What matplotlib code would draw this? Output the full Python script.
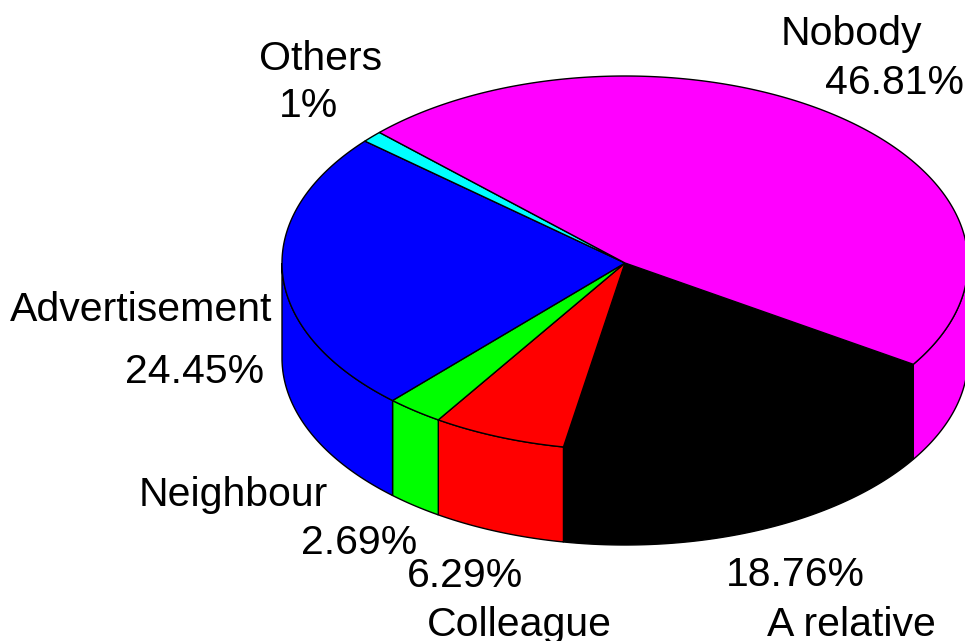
import numpy as np
import matplotlib
matplotlib.use("Agg")
import matplotlib.pyplot as plt

categories = ["A relative", "Colleague", "Neighbour", "Advertisement", "Others", "Nobody"]
values = [18.76, 6.29, 2.69, 24.45, 1.0, 46.81]
labels = ["18.76%", "6.29%", "2.69%", "24.45%", "1%", "46.81%"]
colors = ["#000000", "#ff0000", "#00ff00", "#0000ff", "#00ffff", "#ff00ff"]

CX, CY, RX, RY, DEPTH = 625, 263, 343, 187, 95
START = -32.8

fig = plt.figure(figsize=(9.65, 6.41), dpi=100)
ax = fig.add_axes([0, 0, 1, 1])
ax.set_xlim(0, 965)
ax.set_ylim(641, 0)
ax.axis("off")

def pt(a):
    a = np.radians(a)
    return CX + RX * np.cos(a), CY - RY * np.sin(a)

total = sum(values)
bounds = START - np.cumsum([0] + values) / total * 360
spans = list(zip(bounds[:-1], bounds[1:]))

# side walls (visible where the rim is on the front half: -180..0)
for (a0, a1), c in zip(spans, colors):
    for shift in (0, 360):
        hi, lo = min(a0 + shift, 0), max(a1 + shift, -180)
        if hi > lo:
            t = np.linspace(hi, lo, 200)
            x, y = pt(t)
            ax.fill(np.r_[x, x[::-1]], np.r_[y, y[::-1] + DEPTH], fc=c, ec="black", lw=1, zorder=2)

# top faces
for (a0, a1), c in zip(spans, colors):
    t = np.linspace(a0, a1, 400)
    x, y = pt(t)
    ax.fill(np.r_[CX, x], np.r_[CY, y], fc=c, ec="black", lw=1, zorder=3, joinstyle="round")

font = dict(family="Liberation Sans", fontsize=29.5, color="black", ha="center", va="center", zorder=5)
name_pos = [(851, 625), (519, 625), (233, 495), (141, 310), (321, 59), (851, 34)]
val_pos = [(795, 575), (465, 576), (359, 543), (195, 372), (309, 106), (894, 83)]
for n, l, np_, vp in zip(categories, labels, name_pos, val_pos):
    ax.text(*np_, n, **font)
    ax.text(*vp, l, **font)

fig.savefig("out.png", dpi=100)
